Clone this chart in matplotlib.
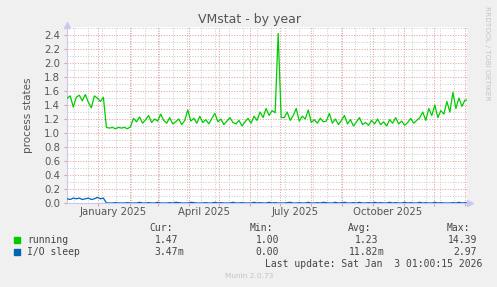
import numpy as np
import matplotlib
matplotlib.use("Agg")
import matplotlib.pyplot as plt
import matplotlib.dates as mdates

# --- data (3-day samples) ---
start = np.datetime64("2024-12-01")
step_days = 3

running = [
    1.50, 1.53, 1.37, 1.51, 1.54, 1.46, 1.55, 1.44, 1.36, 1.53, 1.50, 1.45, 1.51,
    1.08, 1.07, 1.08, 1.06, 1.08, 1.07, 1.08, 1.06, 1.09,
    1.21, 1.16, 1.23, 1.14, 1.19, 1.25, 1.15, 1.20, 1.17, 1.27, 1.18, 1.14, 1.22,
    1.13, 1.16, 1.20, 1.12, 1.18, 1.33, 1.17, 1.21, 1.14, 1.24, 1.15, 1.19, 1.13,
    1.21, 1.28, 1.16, 1.20, 1.12, 1.17, 1.22, 1.15, 1.13, 1.18, 1.10, 1.16, 1.21,
    1.14, 1.24,
    1.18, 1.30, 1.22, 1.35, 1.25, 1.32, 1.29,
    2.42, 1.22,
    1.22, 1.30, 1.18, 1.25, 1.35, 1.17, 1.24, 1.20, 1.33, 1.15, 1.19, 1.14, 1.21, 1.16,
    1.17, 1.28, 1.14, 1.20, 1.12, 1.18, 1.25, 1.13, 1.19, 1.10, 1.16, 1.22, 1.12,
    1.15, 1.11, 1.18, 1.13, 1.20, 1.12, 1.16, 1.10, 1.19, 1.14, 1.22, 1.13, 1.17,
    1.11, 1.15, 1.21, 1.14, 1.18,
    1.22, 1.30, 1.18, 1.35, 1.25, 1.40, 1.22, 1.32, 1.27, 1.45, 1.30, 1.58, 1.35,
    1.50, 1.38, 1.47, 1.47,
]

io_sleep = [
    0.06, 0.05, 0.07, 0.06, 0.07, 0.05, 0.06, 0.07, 0.05, 0.06, 0.08, 0.06, 0.07,
    0.00, 0.00, 0.00, 0.005, 0.00, 0.00, 0.00, 0.005, 0.00, 0.00, 0.00, 0.01,
    0.00, 0.00, 0.005, 0.00, 0.00, 0.01, 0.00, 0.00, 0.00, 0.005, 0.00, 0.01,
    0.005, 0.00, 0.00, 0.00, 0.01, 0.005, 0.00, 0.00, 0.00, 0.005, 0.00, 0.00,
    0.01, 0.00, 0.005, 0.00, 0.00, 0.00, 0.01, 0.00, 0.00, 0.005, 0.00, 0.00,
    0.00, 0.01, 0.00, 0.005, 0.00, 0.00, 0.01, 0.00, 0.005, 0.00, 0.00, 0.00,
    0.005, 0.01, 0.00, 0.00, 0.005, 0.00, 0.00, 0.01, 0.00, 0.00, 0.005, 0.00,
    0.01, 0.005, 0.00, 0.00, 0.01, 0.00, 0.005, 0.01, 0.00, 0.00, 0.005, 0.00,
    0.01, 0.00, 0.00, 0.005, 0.00, 0.01, 0.00, 0.005, 0.00, 0.00, 0.01, 0.00,
    0.005, 0.00, 0.00, 0.01, 0.00, 0.005, 0.00, 0.00, 0.01, 0.00, 0.005, 0.00,
    0.00, 0.01, 0.00, 0.005, 0.00, 0.00, 0.00, 0.005, 0.00, 0.01, 0.00, 0.005,
    0.00,
]

series_names = ["running", "I/O sleep"]
series_colors = ["#00cc00", "#0066b3"]
cur = ["1.47", "3.47"]
cur_unit = ["", "m"]
mins = ["1.00", "0.00"]
min_unit = ["", ""]
avgs = ["1.23", "11.82"]
avg_unit = ["", "m"]
maxs = ["14.39", "2.97"]
max_unit = ["", ""]

month_labels = ["January 2025", "April 2025", "July 2025", "October 2025"]
month_label_dates = ["2025-01-16", "2025-04-16", "2025-07-16", "2025-10-16"]
yticks = [0.0, 0.2, 0.4, 0.6, 0.8, 1.0, 1.2, 1.4, 1.6, 1.8, 2.0, 2.2, 2.4]

dates = start + np.arange(len(running)) * np.timedelta64(step_days, "D")
dates = dates.astype("datetime64[s]").astype(object)

# --- figure ---
W, H = 497, 287
fig = plt.figure(figsize=(W / 100, H / 100), dpi=100, facecolor="#f0f0f0")
L, R, T, B = 67, 467, 27, 203
ax = fig.add_axes([L / W, 1 - B / H, (R - L) / W, (B - T) / H])
ax.set_facecolor("white")

x0 = mdates.date2num(np.datetime64("2024-11-30T18:00"))
x1 = mdates.date2num(np.datetime64("2026-01-03T01:00"))
ax.set_xlim(x0, x1)
ax.set_ylim(0, (B - T) / 70)

dot = (0, (1, 1.5))
# minor grid
for v in np.arange(0.1, 2.55, 0.2):
    ax.axhline(v, color="#cfcfcf", lw=0.75, ls=dot, zorder=0)
for d in np.arange(np.datetime64("2024-12-08"), np.datetime64("2026-01-04"), np.timedelta64(14, "D")):
    ax.axvline(mdates.date2num(d), color="#cfcfcf", lw=0.75, ls=dot, zorder=0)
# major grid
for v in yticks[1:]:
    ax.axhline(v, color="#e4a0a0", lw=0.75, ls=dot, zorder=0.5)
month_starts = np.arange(np.datetime64("2025-01"), np.datetime64("2026-02"), np.timedelta64(1, "M"))
month_nums = [mdates.date2num(m.astype("datetime64[D]")) for m in month_starts]
for m in month_nums:
    ax.axvline(m, color="#e4a0a0", lw=0.75, ls=dot, zorder=0.5)

ax.plot(dates, running, color=series_colors[0], lw=0.9, zorder=3)
ax.plot(dates, io_sleep, color=series_colors[1], lw=0.9, zorder=3)

for s in ["top", "right"]:
    ax.spines[s].set_visible(False)
for s in ["left", "bottom"]:
    ax.spines[s].set_color("#c8c8f0")
    ax.spines[s].set_linewidth(0.8)
ax.plot([x0], [ax.get_ylim()[1] + 0.03], marker="^", ms=4, color="#c8c8f0", clip_on=False)
ax.plot([x1 + 3], [0], marker=">", ms=4, color="#c8c8f0", clip_on=False)

ax.set_yticks(yticks)
ax.set_yticklabels([f"{v:.1f}" for v in yticks])
ax.set_xticks(month_nums)
ax.set_xticklabels([])
ax.tick_params(axis="y", length=2, color="#e4a0a0", labelsize=7.3, labelcolor="#555555", pad=3)
ax.tick_params(axis="x", length=2, color="#e4a0a0")
for lab, d in zip(month_labels, month_label_dates):
    ax.text(mdates.date2num(np.datetime64(d)), -0.06, lab, ha="center", va="top",
            fontsize=7.3, color="#555555")

ax.set_ylabel("process states", fontsize=7.5, color="#555555", labelpad=8)

fig.text(250 / W, 1 - 19 / H, "VMstat - by year", ha="center", va="center", fontsize=9, color="#555555")
fig.text(487 / W, 1 - 53 / H, "RRDTOOL / TOBI OETIKER", ha="center", va="center", rotation=270,
         fontsize=5.3, color="#c4c4c4")

mono = "DejaVu Sans Mono"
fs = 7
tc = "#444444"
def ft(x, y, s, ha="left", **kw):
    fig.text(x / W, 1 - y / H, s, ha=ha, va="center", family=mono, fontsize=fs, color=tc, **kw)

ft(149, 228, "Cur:")
ft(250, 228, "Min:")
ft(348, 228, "Avg:")
ft(447, 228, "Max:")
rows_y = [240, 252]
for i, name in enumerate(series_names):
    y = rows_y[i]
    fig.patches.append(plt.Rectangle((14 / W, 1 - (y + 3) / H), 6 / W, 6 / H,
                                     transform=fig.transFigure, color=series_colors[i]))
    ft(27, y, name)
    for rx, val, unit in [(178, cur[i], cur_unit[i]), (279, mins[i], min_unit[i]),
                          (378, avgs[i], avg_unit[i]), (477, maxs[i], max_unit[i])]:
        ft(rx, y, val, ha="right")
        if unit:
            ft(rx, y, unit)
ft(482, 264, "Last update: Sat Jan  3 01:00:15 2026", ha="right")
fig.text(249 / W, 1 - 276 / H, "Munin 2.0.73", ha="center", va="center", fontsize=5.3, color="#c4c4c4")

fig.savefig("out.png", dpi=100, facecolor=fig.get_facecolor())
